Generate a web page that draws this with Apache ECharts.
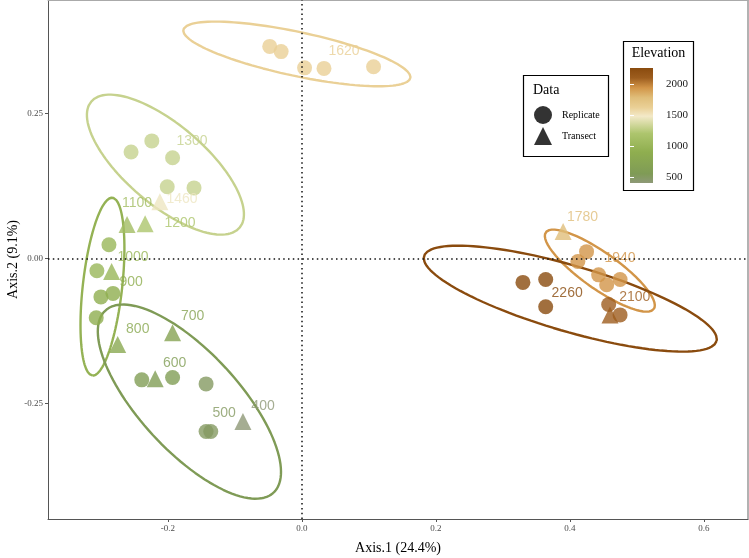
<!DOCTYPE html>
<html>
<head>
<meta charset="utf-8">
<script src="https://cdn.jsdelivr.net/npm/echarts@6/dist/echarts.min.js"></script>
<style>html,body{margin:0;padding:0;background:#fff}#chart{width:749px;height:558px}</style>
</head>
<body>
<div id="chart"></div>
<script>
// replicate samples: [Axis.1, Axis.2, elevation]
var replicates = [
  [-0.048, 0.366, 1620], [-0.031, 0.357, 1620], [0.004, 0.329, 1620], [0.033, 0.328, 1620], [0.107, 0.331, 1620],
  [-0.255, 0.184, 1300], [-0.224, 0.203, 1300], [-0.193, 0.174, 1300], [-0.201, 0.124, 1300], [-0.161, 0.122, 1300],
  [-0.288, 0.024, 1000], [-0.306, -0.021, 1000], [-0.300, -0.066, 900], [-0.282, -0.060, 900], [-0.307, -0.102, 900],
  [-0.239, -0.209, 600], [-0.193, -0.205, 600], [-0.143, -0.216, 500], [-0.143, -0.298, 500], [-0.136, -0.298, 500],
  [0.425, 0.012, 1940], [0.412, -0.005, 1940], [0.443, -0.028, 1940], [0.475, -0.036, 1940], [0.455, -0.045, 1940],
  [0.330, -0.041, 2260], [0.364, -0.036, 2260], [0.364, -0.083, 2260],
  [0.458, -0.079, 2100], [0.475, -0.097, 2100]
];
// transect samples
var transects = [
  [-0.261, 0.059, 1100], [-0.234, 0.060, 1200], [-0.212, 0.098, 1460], [-0.284, -0.022, 1000],
  [-0.275, -0.148, 800], [-0.193, -0.128, 700], [-0.219, -0.207, 600], [-0.088, -0.281, 400],
  [0.390, 0.047, 1780], [0.460, -0.097, 2100]
];
// elevation text labels (repelled positions)
var labelPos = [
  [0.063, 0.357, 1620], [-0.164, 0.202, 1300], [-0.179, 0.102, 1460], [-0.246, 0.095, 1100], [-0.182, 0.062, 1200],
  [-0.252, 0.002, 1000], [-0.255, -0.041, 900], [-0.245, -0.122, 800], [-0.163, -0.100, 700], [-0.190, -0.181, 600],
  [-0.116, -0.266, 500], [-0.058, -0.255, 400], [0.419, 0.072, 1780], [0.475, 0.000, 1940], [0.396, -0.059, 2260],
  [0.497, -0.066, 2100]
];
// confidence ellipses: group elevation, centre, two conjugate half axes
var ellipseElev = [1620, 1300, 950, 550, 1940, 2260];
var ellipseCenter = [[-0.0075, 0.353], [-0.2037, 0.1621], [-0.2977, -0.0483], [-0.1679, -0.2466], [0.4448, -0.0207], [0.4007, -0.0690]];
var ellipseAxisA = [[0.1694, -0.0416], [0.1107, -0.1088], [-0.0149, -0.1533], [0.1255, -0.1571], [0.0806, -0.0660], [0.2183, -0.0733]];
var ellipseAxisB = [[-0.0068, -0.0371], [-0.0385, -0.0523], [-0.0292, 0.0038], [-0.0543, -0.0579], [-0.0156, -0.0255], [-0.0137, -0.0545]];

var xTicks = [-0.2, 0, 0.2, 0.4, 0.6];
var yTicks = [-0.25, 0, 0.25];
var elevTicks = [500, 1000, 1500, 2000];
var elevRange = [400, 2260];

var paletteValues = [400, 550, 900, 1200, 1480, 1620, 1780, 1940, 2100, 2260];
var paletteColors = ['#8E9977', '#7F9B56', '#8FAE4F', '#ADC56D', '#F3E9C8', '#EAD096', '#E0BE7A', '#D29548', '#9D5D1E', '#8A4B0E'];

function elevColor(e) {
  for (var i = 0; i < paletteValues.length - 1; i++) {
    if (e <= paletteValues[i + 1]) {
      var t = (e - paletteValues[i]) / (paletteValues[i + 1] - paletteValues[i]);
      return echarts.color.lerp(Math.max(0, t), [paletteColors[i], paletteColors[i + 1]]);
    }
  }
  return paletteColors[paletteColors.length - 1];
}

var serif = 'Liberation Serif';
var sans = 'Liberation Sans';

var series = [];
ellipseElev.forEach(function (e, k) {
  var pts = [];
  for (var i = 0; i <= 120; i++) {
    var t = i / 120 * Math.PI * 2;
    pts.push([
      ellipseCenter[k][0] + ellipseAxisA[k][0] * Math.cos(t) + ellipseAxisB[k][0] * Math.sin(t),
      ellipseCenter[k][1] + ellipseAxisA[k][1] * Math.cos(t) + ellipseAxisB[k][1] * Math.sin(t)
    ]);
  }
  series.push({
    type: 'line', data: pts, showSymbol: false, silent: true, z: 1,
    lineStyle: { color: elevColor(e), width: 2.4 }
  });
});

series.push({
  name: 'Transect', type: 'scatter', symbol: 'triangle', symbolSize: 17, z: 2,
  data: transects.map(function (d) { return { value: d, itemStyle: { color: elevColor(d[2]) } }; })
});
series.push({
  name: 'Replicate', type: 'scatter', symbol: 'circle', symbolSize: 15, z: 3,
  data: replicates.map(function (d) { return { value: d, itemStyle: { color: elevColor(d[2]) } }; })
});
series.push({
  type: 'scatter', symbolSize: 1, z: 4, silent: true,
  itemStyle: { color: 'transparent' },
  data: labelPos.map(function (d) {
    return { value: d, label: { color: elevColor(d[2]) } };
  }),
  label: {
    show: true, position: 'inside', fontFamily: sans, fontSize: 14,
    formatter: function (p) { return String(p.value[2]); }
  },
  markLine: {
    silent: true, symbol: 'none', label: { show: false },
    lineStyle: { color: '#111', width: 1.5, type: [1.5, 3.3] },
    data: [{ xAxis: 0 }, { yAxis: 0 }]
  }
});
// colour bar
series.push({
  type: 'custom', xAxisIndex: 2, yAxisIndex: 2, silent: true,
  data: [[0, elevRange[0], 1, elevRange[1]]],
  encode: { x: [0, 2], y: [1, 3] },
  renderItem: function (params, api) {
    var p0 = api.coord([api.value(0), api.value(3)]);
    var p1 = api.coord([api.value(2), api.value(1)]);
    var stops = paletteValues.map(function (v, i) {
      return { offset: (v - elevRange[0]) / (elevRange[1] - elevRange[0]), color: paletteColors[i] };
    });
    return {
      type: 'rect',
      shape: { x: p0[0], y: p0[1], width: p1[0] - p0[0], height: p1[1] - p0[1] },
      style: { fill: new echarts.graphic.LinearGradient(0, 1, 0, 0, stops) }
    };
  }
});

var myChart = echarts.init(document.getElementById('chart'));
var option = {
  animation: false,
  grid: [
    { left: 48, top: 0, width: 700, height: 519, outerBoundsMode: 'none', containLabel: false },
    { left: 630, top: 68, width: 23, height: 115, outerBoundsMode: 'none', containLabel: false }
  ],
  xAxis: [
    {
      type: 'value', gridIndex: 0, min: -0.379, max: 0.666,
      name: 'Axis.1 (24.4%)', nameLocation: 'middle', nameGap: 22,
      nameTextStyle: { fontFamily: serif, fontSize: 14, color: '#000' },
      axisLine: { onZero: false, lineStyle: { color: '#555', width: 1 } },
      axisTick: { length: 3, customValues: xTicks, lineStyle: { color: '#555' } },
      axisLabel: {
        customValues: xTicks, margin: 5, fontFamily: serif, fontSize: 9, color: '#4d4d4d',
        formatter: function (v) { return v.toFixed(1); }
      },
      splitLine: { show: false }
    },
    {
      type: 'value', gridIndex: 0, position: 'top', min: -0.379, max: 0.666,
      axisLine: { onZero: false, lineStyle: { color: '#aaa', width: 1 } },
      axisTick: { show: false }, axisLabel: { show: false }, splitLine: { show: false }
    },
    { type: 'value', gridIndex: 1, min: 0, max: 1, show: false }
  ],
  yAxis: [
    {
      type: 'value', gridIndex: 0, min: -0.449, max: 0.446,
      name: 'Axis.2 (9.1%)', nameLocation: 'middle', nameGap: 28, nameMoveOverlap: false,
      nameTextStyle: { fontFamily: serif, fontSize: 14, color: '#000' },
      axisLine: { show: true, onZero: false, lineStyle: { color: '#555', width: 1 } },
      axisTick: { show: true, length: 3, customValues: yTicks, lineStyle: { color: '#555' } },
      axisLabel: {
        customValues: yTicks, margin: 5, fontFamily: serif, fontSize: 9, color: '#4d4d4d',
        formatter: function (v) { return v.toFixed(2); }
      },
      splitLine: { show: false }
    },
    {
      type: 'value', gridIndex: 0, position: 'right', min: -0.449, max: 0.446,
      axisLine: { show: true, onZero: false, lineStyle: { color: '#999', width: 1.5 } },
      axisTick: { show: false }, axisLabel: { show: false }, splitLine: { show: false }
    },
    {
      type: 'value', gridIndex: 1, min: elevRange[0], max: elevRange[1], position: 'right', z: 10,
      axisLine: { show: false },
      axisTick: { show: true, inside: true, length: 4, customValues: elevTicks, lineStyle: { color: '#fff', width: 1 } },
      axisLabel: {
        customValues: elevTicks, margin: 13, fontFamily: serif, fontSize: 11, color: '#1a1a1a',
        formatter: function (v) { return String(v); }
      },
      splitLine: { show: false }
    },
    {
      type: 'value', gridIndex: 1, min: elevRange[0], max: elevRange[1], position: 'left', z: 10,
      axisLine: { show: false },
      axisTick: { show: true, inside: true, length: 4, customValues: elevTicks, lineStyle: { color: '#fff', width: 1 } },
      axisLabel: { show: false }, splitLine: { show: false }
    }
  ],
  legend: {
    orient: 'vertical', left: 534, top: 106, itemWidth: 18, itemHeight: 18, itemGap: 3, padding: 0,
    selectedMode: false,
    data: [
      { name: 'Replicate', icon: 'circle', itemStyle: { color: '#000' } },
      { name: 'Transect', icon: 'triangle', itemStyle: { color: '#000' } }
    ],
    textStyle: { fontFamily: serif, fontSize: 10, color: '#000', padding: [0, 0, 0, 5] }
  },
  graphic: [
    { type: 'rect', shape: { x: 523.5, y: 75.5, width: 85, height: 81 }, style: { fill: '#fff', stroke: '#000', lineWidth: 1.2 } },
    { type: 'text', x: 533, y: 90, style: { text: 'Data', font: '14px "Liberation Serif"', fill: '#000', verticalAlign: 'middle' } },
    { type: 'rect', shape: { x: 623.5, y: 41.5, width: 70, height: 149 }, style: { fill: '#fff', stroke: '#000', lineWidth: 1.2 } },
    { type: 'text', x: 658.5, y: 53, style: { text: 'Elevation', font: '14px "Liberation Serif"', fill: '#000', align: 'center', verticalAlign: 'middle' } }
  ],
  series: series
};
myChart.setOption(option);
</script>
</body>
</html>
